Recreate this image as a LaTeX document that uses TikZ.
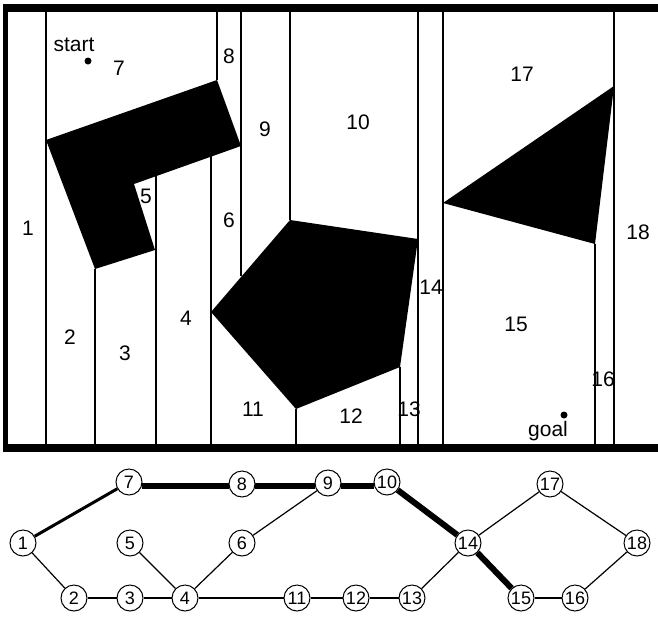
\documentclass[tikz,border=0pt]{standalone}
\usepackage{fontspec}
\setmainfont{Liberation Sans}
\tikzset{
  wall/.style={line width=2pt},
  cell/.style={font=\fontsize{21}{24}\selectfont,inner sep=0pt},
  vertex/.style={circle,draw,fill=white,line width=1pt,inner sep=0pt,minimum size=26pt,font=\fontsize{18}{20}\selectfont},
  link/.style={line width=1.2pt},
  flat/.style={line width=1.8pt},
  route/.style={line width=6pt},
  entry/.style={line width=3pt}
}
\begin{document}
\begin{tikzpicture}[x=1pt,y=-1pt]
\useasboundingbox(0,0)rectangle(658,616);
% frame
\fill(3,4)rectangle(658,12);
\fill(3,444)rectangle(658,452);
\fill(3,4)rectangle(8,452);
% cell walls
\draw[wall](46,12)--(46,444);
\draw[wall](95,269)--(95,444);
\draw[wall](156,176)--(156,444);
\draw[wall](211,155)--(211,444);
\draw[wall](217,12)--(217,80);
\draw[wall](241,12)--(241,276);
\draw[wall](290,12)--(290,220);
\draw[wall](296,409)--(296,444);
\draw[wall](400,367)--(400,444);
\draw[wall](418,12)--(418,444);
\draw[wall](443,12)--(443,444);
\draw[wall](595,244)--(595,444);
\draw[wall](614,12)--(614,444);
% obstacles
\fill(46,140)--(217,80)--(241,146)--(134,184)--(155,250)--(95,269)--cycle;
\fill(290,220)--(418,239)--(400,367)--(296,409)--(211,312)--cycle;
\fill(443,203)--(614,86)--(595,244)--cycle;
% cell numbers
\node[cell] at(28,228)(c1){1};
\node[cell] at(70,337)(c2){2};
\node[cell] at(125,353)(c3){3};
\node[cell] at(186,318)(c4){4};
\node[cell] at(146,196)(c5){5};
\node[cell] at(229,220)(c6){6};
\node[cell] at(119,68)(c7){7};
\node[cell] at(229,56)(c8){8};
\node[cell] at(265,129)(c9){9};
\node[cell] at(358,122)(c10){10};
\node[cell] at(253,409)(c11){11};
\node[cell] at(351,416)(c12){12};
\node[cell] at(409,409)(c13){13};
\node[cell] at(431,287)(c14){14};
\node[cell] at(516,324)(c15){15};
\node[cell] at(603,379)(c16){16};
\node[cell] at(522,74)(c17){17};
\node[cell] at(638,232)(c18){18};
\node[cell,anchor=base] at(74,51)(start){start};
\node[cell,anchor=base] at(548,436)(goal){goal};
\fill(88,61)circle(3.5);
\fill(564,415)circle(3.5);
% adjacency graph
\node[vertex] at(23,543)(v1){1};
\node[vertex] at(74,598)(v2){2};
\node[vertex] at(130,598)(v3){3};
\node[vertex] at(185,598)(v4){4};
\node[vertex] at(130,543)(v5){5};
\node[vertex] at(242,543)(v6){6};
\node[vertex] at(129,482)(v7){7};
\node[vertex] at(242,484)(v8){8};
\node[vertex] at(328,483)(v9){9};
\node[vertex] at(387,482)(v10){10};
\node[vertex] at(297,598)(v11){11};
\node[vertex] at(356,598)(v12){12};
\node[vertex] at(412,598)(v13){13};
\node[vertex] at(468,543)(v14){14};
\node[vertex] at(521,598)(v15){15};
\node[vertex] at(575,598)(v16){16};
\node[vertex] at(550,484)(v17){17};
\node[vertex] at(637,543)(v18){18};
\path[link](v1)edge(v2)
     (v4)edge(v5)edge(v6)
     (v6)edge(v9)
     (v13)edge(v14)
     (v14)edge(v17)
     (v17)edge(v18)
     (v16)edge(v18);
\path[flat](v2)edge(v3)
     (v3)edge(v4)
     (v4)edge(v11)
     (v11)edge(v12)
     (v12)edge(v13)
     (v15)edge(v16);
\path[entry](v1)edge(v7);
\draw[route]([shift={(13,3.5)}]v7.center)--([shift={(-13,1.5)}]v8.center);
\draw[route]([shift={(13,1.5)}]v8.center)--([shift={(-13,2.5)}]v9.center);
\draw[route]([shift={(13,2.5)}]v9.center)--([shift={(-13,3.5)}]v10.center);
\path[route](v10)edge(v14)
     (v14)edge(v15);
\end{tikzpicture}
\end{document}
